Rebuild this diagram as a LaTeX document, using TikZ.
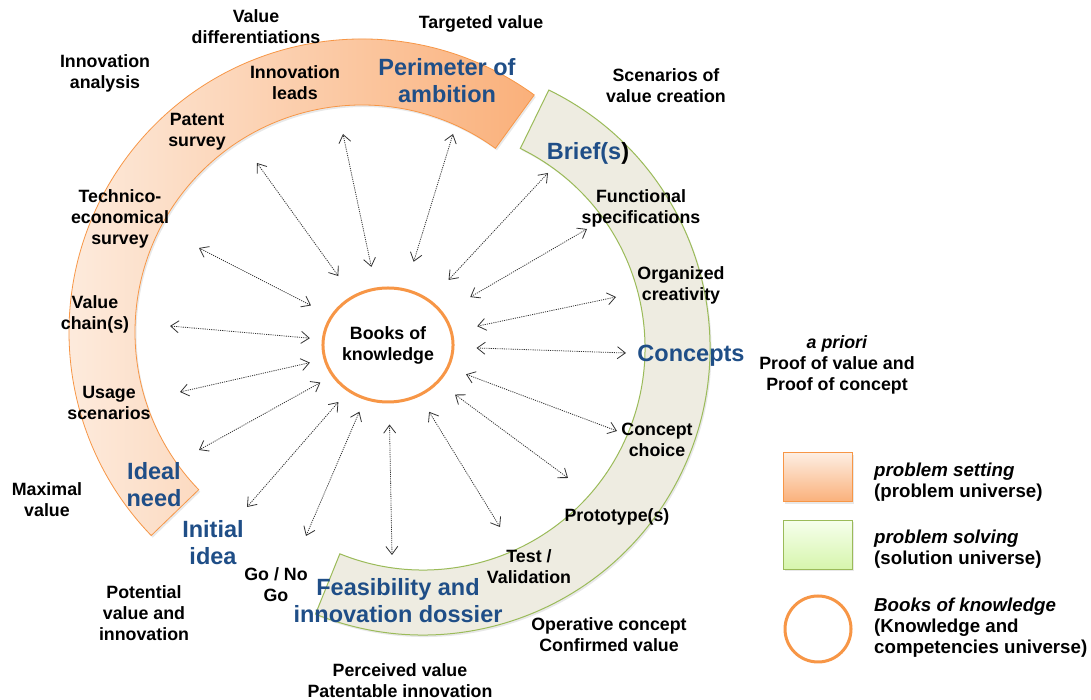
\documentclass[tikz,border=0pt]{standalone}
\usepackage{fontspec}
\setmainfont{Liberation Sans}
\usetikzlibrary{arrows.meta,shapes.geometric,shadows}
\definecolor{titleblue}{RGB}{31,78,135}
\definecolor{probline}{RGB}{247,150,70}
\definecolor{problight}{RGB}{253,238,226}
\definecolor{probdark}{RGB}{250,176,122}
\definecolor{solline}{RGB}{155,187,89}
\definecolor{solfill}{RGB}{238,236,225}
\definecolor{sollight}{RGB}{246,255,236}
\definecolor{soldark}{RGB}{214,245,172}
\tikzset{>={Straight Barb[length=8pt,width=12pt]}}
\tikzstyle{tag}=[font=\fontsize{17.8}{21}\selectfont\bfseries,align=center,inner sep=0pt]
\tikzstyle{keytext}=[font=\fontsize{18.7}{21}\selectfont\bfseries,align=left,anchor=west,inner sep=0pt]
\tikzstyle{phase}=[font=\fontsize{23.5}{27}\selectfont\bfseries,text=titleblue,align=center,inner sep=0pt]
\tikzstyle{link}=[<->,draw=black!80,line width=0.8pt,dash pattern=on 1.1pt off 1.1pt]
\tikzstyle{softshadow}=[drop shadow={opacity=0.18,shadow xshift=1.5pt,shadow yshift=-2pt}]
\tikzstyle{keybox}=[rectangle,line width=1pt,minimum width=69pt,minimum height=49pt,softshadow]

\begin{document}
\begin{tikzpicture}[x=1pt,y=1pt]
	\fill[white] (0,0) rectangle (1091,700);
	\useasboundingbox (0,0) rectangle (1091,700);
	
	% the two half rings
	\coordinate (oc) at (362,368);
	\coordinate (gc) at (423,352);
	\path[softshadow,draw=probline,line width=0.8pt,left color=problight,right color=probdark]
		(oc) ++(54:293) arc (54:224:293) -- ++(44:66) arc (224:54:227) -- cycle;
	\path[softshadow,draw=solline,line width=1pt,fill=solfill]
		(gc) ++(64:287) arc (64:-112:287) -- ++(68:65) arc (-112:64:222) -- cycle;
	
	% books of knowledge
	\node[tag,ellipse,draw=probline,line width=3pt,fill=white,minimum width=126pt,minimum height=114pt] (bok) at (388,355) {Books of\\knowledge};
	
	\coordinate (p1) at (257,537);
	\coordinate (p2) at (343,566);
	\coordinate (p3) at (453,566);
	\coordinate (p4) at (548,527);
	\coordinate (p5) at (587,471);
	\coordinate (p6) at (616,403);
	\coordinate (p7) at (626,347);
	\coordinate (p8) at (199,452);
	\coordinate (p9) at (170,374);
	\coordinate (p10) at (180,308);
	\coordinate (p11) at (199,250);
	\coordinate (p12) at (247,193);
	\coordinate (p13) at (306,164);
	\coordinate (p14) at (392,145);
	\coordinate (p15) at (500,173);
	\coordinate (p16) at (568,222);
	\coordinate (p17) at (617,269);
	
	\draw[link,shorten <=24pt] (bok) -- (p1);
	\draw[link,shorten <=21pt] (bok) -- (p2);
	\draw[link,shorten <=28pt] (bok) -- (p3);
	\draw[link,shorten <=27pt] (bok) -- (p4);
	\draw[link,shorten <=31pt] (bok) -- (p5);
	\draw[link,shorten <=25pt] (bok) -- (p6);
	\draw[link,shorten <=22pt] (bok) -- (p7);
	\draw[link,shorten <=22pt] (bok) -- (p8);
	\draw[link,shorten <=12pt] (bok) -- (p9);
	\draw[link,shorten <=14pt] (bok) -- (p10);
	\draw[link,shorten <=13pt] (bok) -- (p11);
	\draw[link,shorten <=14pt] (bok) -- (p12);
	\draw[link,shorten <=13pt] (bok) -- (p13);
	\draw[link,shorten <=21pt] (bok) -- (p14);
	\draw[link,shorten <=18pt] (bok) -- (p15);
	\draw[link,shorten <=20pt] (bok) -- (p16);
	\draw[link,shorten <=18pt] (bok) -- (p17);
	
	% phases
	\node[phase] (perimeter) at (447,619.5) {Perimeter of\\ambition};
	\node[phase] (brief) at (588,547) {Brief(s\textcolor{black}{)}};
	\node[phase] (concepts) at (691,344) {Concepts};
	\node[phase] (ideal) at (154,215) {Ideal\\need};
	\node[phase] (initial) at (213,157) {Initial\\idea};
	\node[phase] (feasibility) at (398,99) {Feasibility and\\innovation dossier};
	
	% activities and values
	\node[tag] (valdiff) at (256,673) {Value\\differentiations};
	\node[tag] (targeted) at (481,676) {Targeted value};
	\node[tag] (innoanalysis) at (105,627) {Innovation\\analysis};
	\node[tag] (innoleads) at (295,617) {Innovation\\leads};
	\node[tag] (scenarios) at (666,614.5) {Scenarios of\\value creation};
	\node[tag] (patent) at (197,568.5) {Patent\\survey};
	\node[tag] (technico) at (120,481) {Technico-\\economical\\survey};
	\node[tag] (functional) at (641,492) {Functional\\specifications};
	\node[tag] (creativity) at (681,414.5) {Organized\\creativity};
	\node[tag] (valchain) at (95,385.5) {Value\\chain(s)};
	\node[tag] (apriori) at (837,335) {\textit{a priori}\\Proof of value and\\Proof of concept};
	\node[tag] (usage) at (109,297) {Usage\\scenarios};
	\node[tag] (choice) at (657,260) {Concept\\choice};
	\node[tag] (maximal) at (47,200.5) {Maximal\\value};
	\node[tag] (prototype) at (617,183) {Prototype(s)};
	\node[tag] (gonogo) at (276,115.5) {Go / No\\Go};
	\node[tag] (testval) at (529,133) {Test /\\Validation};
	\node[tag] (potential) at (144,86.5) {Potential\\value and\\innovation};
	\node[tag] (operative) at (609,65) {Operative concept\\Confirmed value};
	\node[tag] (perceived) at (400,19.5) {Perceived value\\Patentable innovation};
	
	% legend
	\node[keybox,draw=probline,top color=problight,bottom color=probdark] (setbox) at (817.5,222.5) {};
	\node[keybox,draw=solline,top color=sollight,bottom color=soldark] (solvebox) at (817.5,155) {};
	\node[circle,draw=probline,line width=3pt,minimum size=66pt] (bokkey) at (818,71) {};
	\node[keytext] (setkey) at (874,217.5) {\textit{problem setting}\\(problem universe)};
	\node[keytext] (solvekey) at (874,150.5) {\textit{problem solving}\\(solution universe)};
	\node[keytext] (bokkeytext) at (874,72) {\textit{Books of knowledge}\\(Knowledge and\\competencies universe)};
\end{tikzpicture}
\end{document}
